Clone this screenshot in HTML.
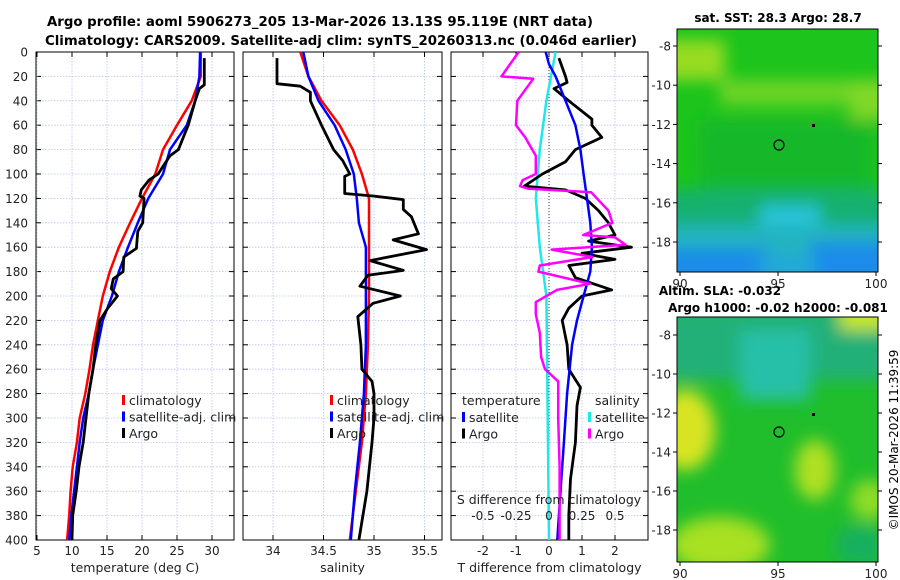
<!DOCTYPE html>
<html><head><meta charset="utf-8"><style>
body{margin:0;background:#fff}
svg{display:block;font-family:"DejaVu Sans","Liberation Sans",sans-serif}
</style></head><body>
<svg id="fig" width="900" height="580" viewBox="0 0 900 580">
<defs>
<filter id="bl" x="-50%" y="-50%" width="200%" height="200%"><feGaussianBlur stdDeviation="8"/></filter>
<clipPath id="cm1"><rect x="677" y="29" width="201" height="243"/></clipPath>
<clipPath id="cm2"><rect x="677" y="317" width="201" height="245"/></clipPath>
<clipPath id="cp1"><rect x="36" y="52" width="198" height="488"/></clipPath>
<clipPath id="cp2"><rect x="243" y="52" width="199" height="488"/></clipPath>
<clipPath id="cp3"><rect x="451" y="52" width="197" height="488"/></clipPath>
</defs>
<g font-weight="bold" font-size="13" text-anchor="middle">
<text x="320" y="26" textLength="546" lengthAdjust="spacingAndGlyphs">Argo profile: aoml 5906273_205 13-Mar-2026 13.13S 95.119E (NRT data)</text>
<text x="341" y="45" textLength="592" lengthAdjust="spacingAndGlyphs">Climatology: CARS2009. Satellite-adj clim: synTS_20260313.nc (0.046d earlier)</text>
</g>
<g id="maps">
<g clip-path="url(#cm1)">
<rect x="677" y="29" width="201" height="243" fill="#1cc41c"/>
<g filter="url(#bl)">
<rect x="650" y="40" width="75" height="40" fill="#98dc24"/>
<rect x="720" y="80" width="150" height="25" fill="#70d428"/>
<rect x="850" y="80" width="50" height="40" fill="#80d828"/>
<rect x="700" y="120" width="170" height="70" fill="#14b82c"/>
<rect x="650" y="190" width="250" height="35" fill="#18b070"/>
<rect x="760" y="205" width="60" height="40" fill="#28c4d8"/>
<rect x="650" y="225" width="250" height="30" fill="#20b4c0"/>
<rect x="650" y="248" width="120" height="40" fill="#1c8ce8"/>
<rect x="810" y="242" width="90" height="45" fill="#1c8ce8"/>
<rect x="760" y="255" width="55" height="30" fill="#20a8d8"/>
</g>
</g>
<rect x="677" y="29" width="201" height="243" fill="none" stroke="#000" stroke-width="1"/>
<circle cx="779" cy="145" r="5" fill="none" stroke="#000" stroke-width="1.2"/>
<rect x="812" y="124" width="3" height="3" fill="#000"/>
<text x="778" y="22" font-size="12" font-weight="bold" text-anchor="middle">sat. SST: 28.3 Argo: 28.7</text>
<g clip-path="url(#cm2)">
<rect x="677" y="317" width="201" height="245" fill="#20be2c"/>
<g filter="url(#bl)">
<rect x="650" y="310" width="250" height="70" fill="#22b078"/>
<rect x="740" y="330" width="70" height="70" fill="#26c0a8"/>
<rect x="840" y="300" width="50" height="30" fill="#c8e820"/>
<ellipse cx="685" cy="430" rx="30" ry="40" fill="#d8e424"/>
<ellipse cx="815" cy="470" rx="20" ry="30" fill="#b0e020"/>
<ellipse cx="720" cy="545" rx="50" ry="28" fill="#a8e024"/>
<ellipse cx="870" cy="500" rx="20" ry="20" fill="#90dc28"/>
<ellipse cx="860" cy="545" rx="25" ry="20" fill="#18b060"/>
</g>
</g>
<rect x="677" y="317" width="201" height="245" fill="none" stroke="#000" stroke-width="1"/>
<circle cx="779" cy="432" r="5" fill="none" stroke="#000" stroke-width="1.2"/>
<rect x="812" y="413" width="3" height="3" fill="#000"/>
<text x="720" y="295" font-size="12" font-weight="bold" text-anchor="middle">Altim. SLA: -0.032</text>
<text x="778" y="312" font-size="12" font-weight="bold" text-anchor="middle">Argo h1000: -0.02 h2000: -0.081</text>
<text transform="translate(898,440) rotate(-90)" font-size="12" text-anchor="middle">©IMOS 20-Mar-2026 11:39:59</text>
</g>
</svg>
<script>
// ---- data ----
var tClimDepth=[0,20,40,60,80,100,120,140,160,180,200,220,240,260,280,300,320,340,360,380,400];
var tClim=[28.4,28.4,27.1,25,23,21.9,20,18.3,16.7,15.4,14.4,13.7,13,12.5,11.9,11.1,10.7,10.1,9.8,9.6,9.3];
var tSat=[28.3,28.2,27.6,26.4,24,23,20.9,19.4,18,16.7,15.7,14.4,13.7,13,12.4,11.6,11.1,10.7,10.3,9.9,9.6];
var tArgoDepth=[5,27,30,40,60,70,80,85,100,105,113,118,120,140,147,161,168,180,186,194,200,210,220,240,260,280,300,320,340,360,380,400];
var tArgo=[28.9,28.9,28.2,27.6,26.6,25.9,25.2,24,22.3,21,19.9,19.7,20.3,20.1,19.4,19.2,17.4,17.3,15.9,15.6,16.5,15.1,14,13.4,13,12.4,12,11.6,11,10.6,10.1,10];
var sClimDepth=[0,20,40,60,80,100,120,140,160,200,240,280,320,360,400];
var sClim=[34.27,34.35,34.48,34.66,34.79,34.88,34.95,34.95,34.95,34.95,34.94,34.92,34.88,34.82,34.76];
var sSat=[34.3,34.35,34.45,34.61,34.72,34.8,34.83,34.85,34.92,34.92,34.92,34.9,34.86,34.81,34.77];
var sArgoDepth=[5,26,28,33,40,60,80,89,100,102,116,118,121,129,135,149,154,162,171,179,183,192,200,206,217,240,260,270,280,300,320,360,400];
var sArgo=[34.04,34.04,34.27,34.37,34.37,34.48,34.6,34.69,34.76,34.71,34.71,34.99,35.29,35.29,35.37,35.44,35.19,35.52,34.96,35.29,34.94,34.86,35.26,34.99,34.84,34.87,34.88,34.98,35.0,35.0,34.98,34.93,34.85];
var dTSatDepth=[0,10,20,40,60,80,100,120,140,160,180,200,220,240,280,320,360,400];
var dTSat=[-0.1,0,0.2,0.5,0.8,0.95,1.05,1.15,1.25,1.3,1.25,1.05,0.85,0.7,0.55,0.45,0.35,0.25];
var dTArgoDepth=[5,20,25,30,40,55,60,70,75,80,90,100,110,113,120,130,140,150,155,160,165,170,175,185,195,200,210,220,240,260,275,290,320,350,380,400];
var dTArgo=[0.3,0.5,0.55,0.15,0.6,1.3,1.3,1.6,1.2,0.8,0.5,-0.2,-0.75,0.5,1.1,1.5,1.8,2.0,1.2,2.5,1.0,2.0,0.6,0.8,1.9,1.0,0.6,0.4,0.55,0.6,0.95,0.85,0.8,0.65,0.6,0.6];
var dSSatDepth=[0,40,80,120,160,200,300,400];
var dSSat=[0.05,-0.02,-0.07,-0.1,-0.07,-0.02,-0.01,0];
var dSArgoDepth=[0,20,22,40,60,70,85,100,105,110,112,115,130,140,150,152,158,162,168,175,180,190,195,205,215,230,250,260,270,300,340,400];
var dSArgo=[-0.23,-0.36,-0.12,-0.24,-0.25,-0.18,-0.1,-0.1,-0.2,-0.22,-0.16,0.32,0.45,0.48,0.26,0.5,0.58,0.02,0.33,-0.07,-0.08,0.31,0.06,-0.1,-0.1,-0.07,-0.06,-0.03,0.07,0.07,0.08,0.08];
var depthTicks=[0,20,40,60,80,100,120,140,160,180,200,220,240,260,280,300,320,340,360,380,400];
var tTicks=[5,10,15,20,25,30];
var sTicks=[34,34.5,35,35.5];
var dTTicks=[-2,-1,0,1,2];
var dSTicks=["-0.5","-0.25","0","0.25","0.5"];
var lonTicks=[90,95,100];
var latTicks=[-8,-10,-12,-14,-16,-18];

// ---- axes ----
var NS='http://www.w3.org/2000/svg';
var svg=document.getElementById('fig');
function Y(d){return 52+d*1.22;}
function XT(t){return 37+(t-5)*7;}
function XS(s){return 273+(s-34)*101;}
function XDT(t){return 549+t*33;}
function XDS(s){return 549+s*132;}
function el(tag,attrs,parent){var e=document.createElementNS(NS,tag);for(var k in attrs)e.setAttribute(k,attrs[k]);(parent||svg).appendChild(e);return e;}
function txt(x,y,s,size,anchor,parent){var t=el('text',{x:x,y:y,'font-size':size,'text-anchor':anchor||'middle',fill:'#222'},parent);t.textContent=s;return t;}

function panel(name,x0,w,xticks,xf,labels,xlabel){
  var g=el('g',{});
  
  
  for(var i=0;i<depthTicks.length;i++){var y=Y(depthTicks[i]);
    el('line',{x1:x0,x2:x0+w,y1:y,y2:y,stroke:'#b8c4ec','stroke-width':0.8,'stroke-dasharray':'1.5,1.5'},g);
    el('line',{x1:x0,x2:x0+5,y1:y,y2:y,stroke:'#000'},g);
    el('line',{x1:x0+w-5,x2:x0+w,y1:y,y2:y,stroke:'#000'},g);}
  for(var j=0;j<xticks.length;j++){var x=xf(xticks[j]);
    el('line',{x1:x,x2:x,y1:52,y2:540,stroke:'#b8c4ec','stroke-width':0.8,'stroke-dasharray':'1.5,1.5'},g);
    el('line',{x1:x,x2:x,y1:535,y2:540,stroke:'#000'},g);
    el('line',{x1:x,x2:x,y1:52,y2:57,stroke:'#000'},g);
    txt(x,555,labels[j],12,'middle',g);}
  el('rect',{x:x0,y:52,width:w,height:488,fill:'none',stroke:'#000','stroke-width':1},g);
  var xl=txt(x0+w/2,572,xlabel,12.5,'middle',g);
  
  return g;
}
var p1=panel('temperature-panel',36,198,tTicks,XT,tTicks,'temperature (deg C)');
var p2=panel('salinity-panel',243,199,sTicks,XS,sTicks,'salinity');
var p3=panel('difference-panel',451,197,dTTicks,XDT,dTTicks,'T difference from climatology');
var yl=el('g',{});


for(var i=0;i<depthTicks.length;i++){txt(28,Y(depthTicks[i])+4.5,String(depthTicks[i]),12,'end',yl);}
el('line',{x1:549,x2:549,y1:52,y2:540,stroke:'#333','stroke-width':1,'stroke-dasharray':'1,2'},p3);

function line(name,depths,vals,xf,color,clip,w){
  var pts=[];for(var i=0;i<depths.length;i++)pts.push(xf(vals[i]).toFixed(1)+','+Y(depths[i]).toFixed(1));
  var l=el('polyline',{points:pts.join(' '),fill:'none',stroke:color,'stroke-width':w||2.5,'stroke-linejoin':'round','clip-path':'url(#'+clip+')'});
  
  
}
line('temp-climatology-line',tClimDepth,tClim,XT,'#f00','cp1');
line('temp-satellite-line',tClimDepth,tSat,XT,'#00f','cp1');
line('temp-argo-line',tArgoDepth,tArgo,XT,'#000','cp1',2.8);
line('sal-climatology-line',sClimDepth,sClim,XS,'#f00','cp2');
line('sal-satellite-line',sClimDepth,sSat,XS,'#00f','cp2');
line('sal-argo-line',sArgoDepth,sArgo,XS,'#000','cp2',2.8);
line('dsal-satellite-line',dSSatDepth,dSSat,XDS,'#20e8e8','cp3');
line('dtemp-argo-line',dTArgoDepth,dTArgo,XDT,'#000','cp3',2.8);
line('dtemp-satellite-line',dTSatDepth,dTSat,XDT,'#00f','cp3');
line('dsal-argo-line',dSArgoDepth,dSArgo,XDS,'#f0f','cp3');

var sa=el('g',{});


txt(549,504,'S difference from climatology',12.5,'middle',sa);
for(var k=0;k<dSTicks.length;k++){txt(XDS(parseFloat(dSTicks[k])),520,dSTicks[k],12,'middle',sa);}

function legend(name,x,y,items){
  var g=el('g',{});
  
  
  for(var i=0;i<items.length;i++){var yy=y+i*16.5;
    if(items[i][1])el('rect',{x:x,y:yy-6,width:3,height:10,fill:items[i][1]},g);
    txt(x+(items[i][1]?7:0),yy+4,items[i][0],12.5,'start',g);}
}
legend('temperature-legend',122,401,[['climatology','#f00'],['satellite-adj. clim','#00f'],['Argo','#000']]);
legend('salinity-legend',330,401,[['climatology','#f00'],['satellite-adj. clim','#00f'],['Argo','#000']]);
legend('diff-temp-legend',462,401,[['temperature',null]]);
legend('diff-temp-legend-entries',462,418,[['satellite','#00f'],['Argo','#000']]);
legend('diff-sal-legend',595,401,[['salinity',null]]);
legend('diff-sal-legend-entries',588,418,[['satellite','#20e8e8'],['Argo','#f0f']]);

function mapAxes(name,top,bottom,latY0,latStep){
  var g=el('g',{});
  
  
  for(var i=0;i<lonTicks.length;i++){var x=680+(lonTicks[i]-90)*19.6;
    el('line',{x1:x,x2:x,y1:bottom,y2:bottom+4,stroke:'#000'},g);
    txt(x,bottom+16,String(lonTicks[i]),12,'middle',g);}
  for(var j=0;j<latTicks.length;j++){var y=latY0+(-8-latTicks[j])*latStep;
    el('line',{x1:673,x2:677,y1:y,y2:y,stroke:'#000'},g);
    el('line',{x1:878,x2:882,y1:y,y2:y,stroke:'#000'},g);
    txt(671,y+4.5,String(latTicks[j]),12,'end',g);}
}
mapAxes('sst-map-axes',29,272,46,19.6);
mapAxes('sla-map-axes',317,562,335,19.5);
</script>
</body></html>
